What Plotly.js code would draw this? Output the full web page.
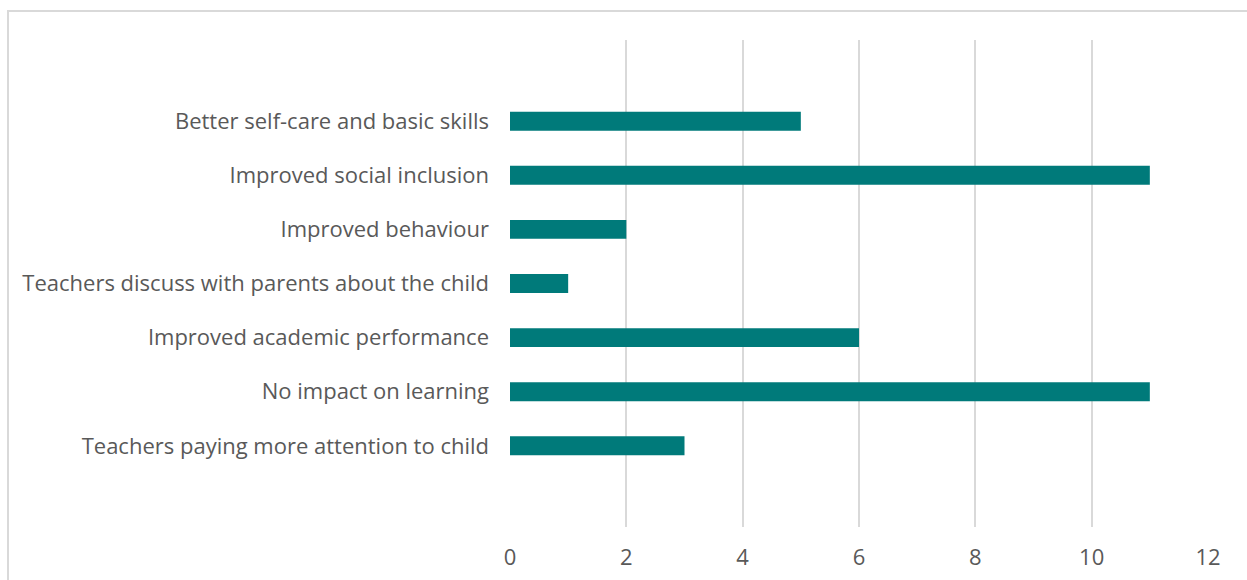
<!DOCTYPE html>
<html>
<head>
<meta charset="utf-8">
<script src="https://cdn.plot.ly/plotly-3.0.1.min.js"></script>
<style>
  html, body { margin: 0; padding: 0; background: #ffffff; }
  #wrap { position: relative; width: 1247px; height: 580px; }
  #chart { width: 1247px; height: 580px; }
  #frame { position: absolute; left: 7px; top: 10px; width: 1260px; height: 600px;
           border-left: 2px solid #d9d9d9; border-top: 2px solid #d9d9d9; pointer-events: none; box-sizing: border-box; }
</style>
</head>
<body>
<div id="wrap">
  <div id="chart"></div>
  <div id="frame"></div>
</div>
<script>
const categories = [
  "Teachers paying more attention to child",
  "No impact on learning",
  "Improved academic performance",
  "Teachers discuss with parents about the child",
  "Improved behaviour",
  "Improved social inclusion",
  "Better self-care and basic skills"
];
const values = [3, 11, 6, 1, 2, 11, 5];
const xTicks = [0, 2, 4, 6, 8, 10, 12];

const trace = {
  type: "bar",
  orientation: "h",
  y: categories,
  x: values,
  width: 0.35,
  marker: { color: "#007A7A" },
  hoverinfo: "x+y"
};

const layout = {
  width: 1247,
  height: 580,
  margin: { l: 510, r: 39, t: 40, b: 53 },
  paper_bgcolor: "#ffffff",
  plot_bgcolor: "#ffffff",
  showlegend: false,
  font: { family: "Open Sans, Liberation Sans, Arial, sans-serif", color: "#595959", size: 22 },
  xaxis: {
    range: [0, 12],
    tickvals: xTicks,
    ticktext: xTicks.map(String),
    showgrid: true,
    gridcolor: "#d9d9d9",
    gridwidth: 2,
    zeroline: false,
    showline: false,
    ticks: "",
    ticklabelstandoff: 15,
    tickfont: { size: 22, color: "#595959" }
  },
  yaxis: {
    type: "category",
    range: [-1.5, 7.5],
    showgrid: false,
    zeroline: false,
    showline: false,
    ticks: "",
    ticklabelstandoff: 20,
    tickfont: { size: 22, color: "#595959" }
  }
};

Plotly.newPlot("chart", [trace], layout, { displayModeBar: false, staticPlot: true });
</script>
</body>
</html>
